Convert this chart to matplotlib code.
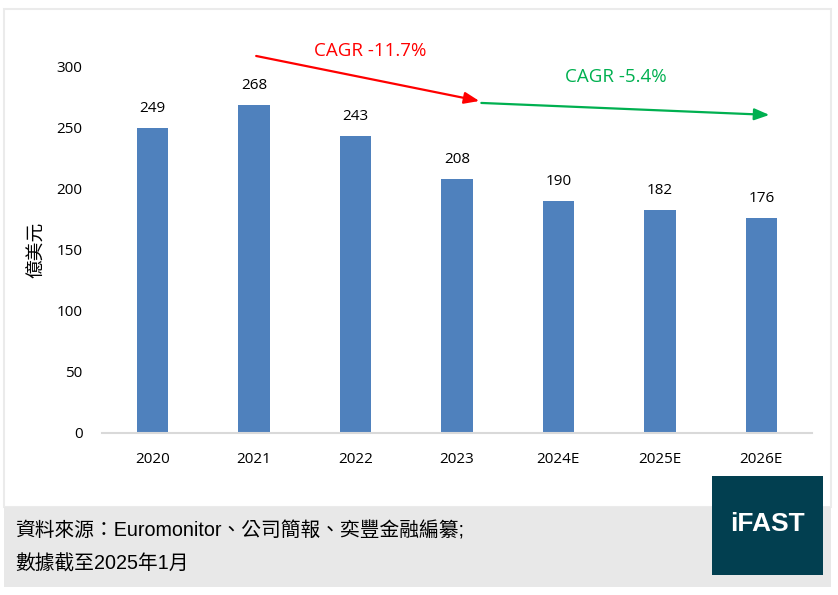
import matplotlib.pyplot as plt
import matplotlib.patches as patches

years = ["2020", "2021", "2022", "2023", "2024E", "2025E", "2026E"]
values = [249, 268, 243, 208, 190, 182, 176]
yticks = [0, 50, 100, 150, 200, 250, 300]

cjk = ["Liberation Sans", "Noto Sans CJK TC", "DejaVu Sans"]
num_font = ["Open Sans", "DejaVu Sans"]

W, H = 838, 595
fig = plt.figure(figsize=(W / 100, H / 100), dpi=100)
fig.patch.set_facecolor("white")

def box(x0, y0, x1, y1, **kw):
    # pixel coords, y from top
    fig.patches.append(patches.Rectangle((x0 / W, 1 - y1 / H), (x1 - x0) / W, (y1 - y0) / H,
                                         transform=fig.transFigure, **kw))

# card frame and footer band (behind the axes)
box(4, 9, 831, 507, facecolor="white", edgecolor="#EBEBEB", linewidth=1.5, zorder=-5)
box(4, 507, 831, 587, facecolor="#E8E8E8", edgecolor="none", zorder=-4)
box(712, 476, 823, 575, facecolor="#023F50", edgecolor="none", zorder=3)
fig.text(767.5 / W, 1 - 524 / H, "iFAST", color="white", fontsize=19, fontweight="bold",
         family=["Liberation Sans"], ha="center", va="center", zorder=4)

fig.text(15 / W, 1 - 531 / H, "資料來源：Euromonitor、公司簡報、奕豐金融編纂;",
         fontsize=14.2, family=cjk, ha="left", va="center")
fig.text(15 / W, 1 - 564 / H, "數據截至2025年1月",
         fontsize=14.2, family=cjk, ha="left", va="center")

ax = fig.add_axes([102 / W, 1 - 433 / H, 710 / W, 367 / H])
ax.set_facecolor("none")
x = list(range(len(years)))
ax.bar(x, values, width=0.31, color="#4F81BD", zorder=2)
for xi, v in zip(x, values):
    ax.annotate(str(v), (xi, v), xytext=(0, 14), textcoords="offset points",
                ha="center", va="center", fontsize=11, family=num_font)

ax.set_xlim(-0.5, 6.5)
ax.set_ylim(0, 300)
ax.set_yticks(yticks)
ax.set_yticklabels([str(t) for t in yticks], family=num_font, fontsize=11)
ax.set_xticks(x)
ax.set_xticklabels(years, family=num_font, fontsize=11)
ax.tick_params(axis="both", length=0)
ax.tick_params(axis="y", pad=14)
ax.tick_params(axis="x", pad=14)
for s in ["top", "right", "left"]:
    ax.spines[s].set_visible(False)
ax.spines["bottom"].set_color("#D9D9D9")
ax.spines["bottom"].set_linewidth(1.5)
ax.set_ylabel("億美元", family=["Noto Sans CJK TC"], fontsize=13.5, labelpad=7)

# CAGR arrows
ax.annotate("", xy=(3.22, 271.4), xytext=(1.02, 308.2), annotation_clip=False,
            arrowprops=dict(arrowstyle="-|>,head_length=0.9,head_width=0.35",
                            color="#FF0000", lw=1.6, shrinkA=0, shrinkB=0))
ax.annotate("", xy=(6.08, 260.0), xytext=(3.24, 269.8), annotation_clip=False,
            arrowprops=dict(arrowstyle="-|>,head_length=0.9,head_width=0.35",
                            color="#00B050", lw=1.6, shrinkA=0, shrinkB=0))
ax.text(2.14, 312, "CAGR -11.7%", color="#FF0000", fontsize=13.5, family=num_font,
        ha="center", va="center", clip_on=False)
ax.text(4.57, 290.8, "CAGR -5.4%", color="#00B050", fontsize=13.5, family=num_font,
        ha="center", va="center", clip_on=False)

fig.savefig("out.png", dpi=100)
